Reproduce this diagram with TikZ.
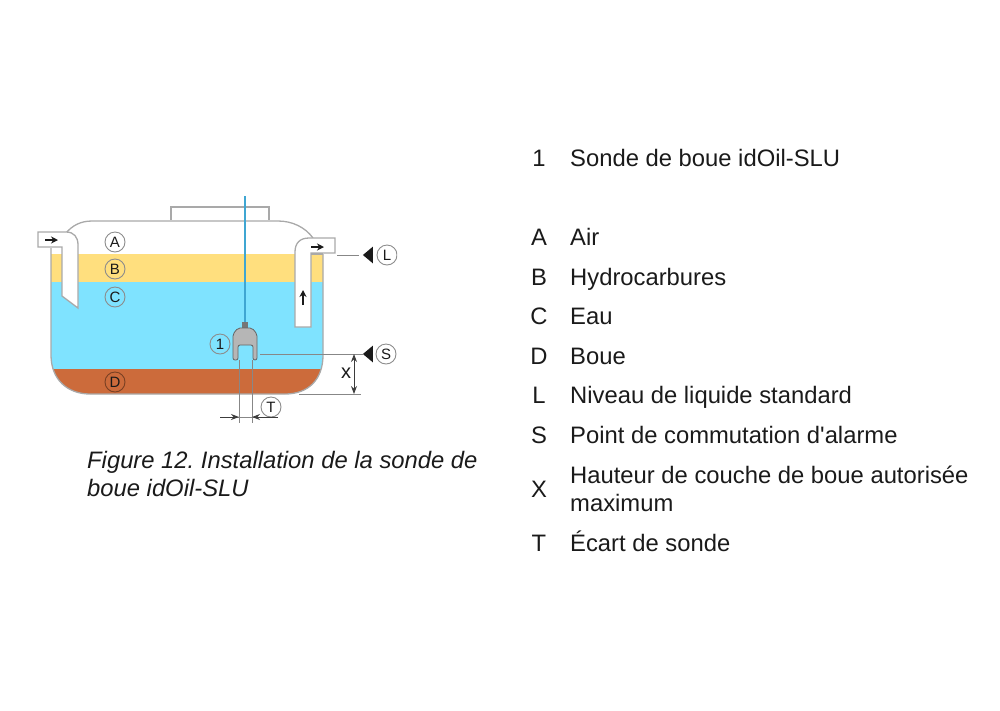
\documentclass[tikz,border=0pt]{standalone}
\usepackage{fontspec}
\setmainfont{Liberation Sans}
\usetikzlibrary{arrows.meta,shapes.geometric}
\definecolor{fuel}{HTML}{FFDF7E}
\definecolor{water}{HTML}{7FE3FF}
\definecolor{sludge}{HTML}{CC6B3B}
\definecolor{wall}{HTML}{A9A9A9}
\definecolor{cable}{HTML}{3FA6D2}
\definecolor{ink}{HTML}{1A1A1A}
\tikzset{
  wallline/.style={draw=wall,line width=1.3pt},
  callout/.style={circle,draw=ink!50,line width=0.9pt,minimum size=20pt,inner sep=0pt,text=ink,font=\fontsize{15}{15}\selectfont},
  dimline/.style={draw=wall!80!black,line width=0.9pt},
  flow/.style={-{Stealth[length=7pt,width=7pt]},ink,line width=1.8pt},
  dimtip/.style={-{Stealth[length=8pt,width=6pt]},ink!85,line width=1pt},
  pointer/.style={isosceles triangle,isosceles triangle apex angle=80,fill=ink,inner sep=0pt,minimum height=10pt,minimum width=13pt,shape border rotate=180},
  keyletter/.style={anchor=base,text=ink,font=\fontsize{23.8}{28}\selectfont},
  keytext/.style={anchor=base west,inner sep=0pt,text=ink,font=\fontsize{23.8}{28}\selectfont,align=left},
  caption/.style={anchor=base west,inner sep=0pt,text=ink,font=\fontsize{23.8}{28}\selectfont\itshape\frenchspacing,align=left}
}
\begin{document}
\begin{tikzpicture}[x=1pt,y=-1pt]
      \useasboundingbox (0,0) rectangle (1000,710);
      % liquid layers
      \begin{scope}
        \clip (51,254) -- (51,355) .. controls (51,380) and (68,394) .. (90,394)
          -- (285,394) .. controls (308,394) and (323,380) .. (323,355) -- (323,254) -- cycle;
        \fill[fuel] (40,254) rectangle (335,282);
        \fill[water] (40,282) rectangle (335,369);
        \fill[sludge] (40,369) rectangle (335,400);
      \end{scope}
      % tank
      \draw[wallline,fill=white] (171,220) -- (171,207) -- (269,207) -- (269,220);
      \draw[wallline] (66,233) .. controls (72,226) and (80,221) .. (92,221) -- (278,221)
        .. controls (292,221) and (305,227) .. (313,238);
      \draw[wallline] (51,248) -- (51,355) .. controls (51,380) and (68,394) .. (90,394)
        -- (285,394) .. controls (308,394) and (323,380) .. (323,355) -- (323,254);
      % pipes
      \draw[wallline,fill=white] (38,232) -- (66,232) .. controls (74,232) and (78,237) .. (78,245)
        -- (78,308) -- (62,296) -- (62,247) -- (38,247) -- cycle;
      \draw[wallline,fill=white] (295,327) -- (295,252) .. controls (295,243) and (300,238) .. (309,238)
        -- (335,238) -- (335,253) -- (311,253) -- (311,327) -- cycle;
      \draw[wallline] (311,254) -- (323,254);
      \draw[flow] (45,240) -- (58,240);
      \draw[flow] (311,247) -- (324,247);
      \draw[flow] (303,305) -- (303,290);
      % probe
      \draw[cable,line width=2pt] (245,196) -- (245,322);
      \fill[wall!70!black] (242,322) rectangle (248,329);
      \draw[wall!60!black,fill=wall!85!white,line width=0.8pt,rounded corners=2pt]
        (233,360) -- (233,334) -- (238,328) -- (252,328) -- (257,334) -- (257,360)
        -- (253,360) -- (253,345) -- (238,345) -- (238,360) -- cycle;
      \draw
        (115,242) node[callout] (A){A}
        (115,269) node[callout] (B){B}
        (115,297) node[callout] (C){C}
        (115,382) node[callout,draw=sludge!60!black] (D){D}
        (220,344) node[callout] (1){1}
        (271,407) node[callout] (T){T};
      % clipped callouts on the right
      \begin{scope}
        \clip (330,230) rectangle (397,370);
        \draw
          (387,255) node[callout] (L){L}
          (386,354) node[callout] (S){S};
      \end{scope}
      \draw
        (369,255) node[pointer] (Lmark){}
        (369,354) node[pointer] (Smark){};
      % dimensions
      \coordinate (Lstart) at (337,255);
      \coordinate (Sstart) at (260,354);
      \coordinate (Xtop) at (354,354);
      \coordinate (Xmid) at (354,374);
      \coordinate (Xbot) at (354,394);
      \coordinate (baseL) at (299,394);
      \coordinate (baseR) at (361,394);
      \coordinate (leftA) at (239,360);
      \coordinate (leftB) at (239,423);
      \coordinate (rightA) at (252,360);
      \coordinate (rightB) at (252,423);
      \coordinate (Tleft) at (220,417);
      \coordinate (Tin) at (239,417);
      \coordinate (Tout) at (252,417);
      \coordinate (Tright) at (278,417);
      \begin{scope}[dimline]
        \draw[shorten >=4pt] (Lstart) to (Lmark);
        \draw (Sstart) to (Smark);
        \draw (baseL) to (baseR);
        \draw (leftA) to (leftB);
        \draw (rightA) to (rightB);
        \draw (Tleft) to (Tright);
      \end{scope}
      \draw[dimtip] (Xmid) to (Xtop);
      \draw[dimtip] (Xmid) to (Xbot);
      \draw[dimtip] (Tleft) to (Tin);
      \draw[dimtip] (Tright) to (Tout);
      \node[text=ink,font=\fontsize{20}{20}\selectfont] (X) at (346,373) {x};
      % caption
      \draw (87,496) node[caption] (fig){Figure 12. Installation de la sonde de\\boue idOil-SLU};
      % key
      \draw
        (539,166) node[keyletter] (k1){1}
        (539,245) node[keyletter] (kA){A}
        (539,285) node[keyletter] (kB){B}
        (539,324) node[keyletter] (kC){C}
        (539,364) node[keyletter] (kD){D}
        (539,403) node[keyletter] (kL){L}
        (539,443) node[keyletter] (kS){S}
        (539,497) node[keyletter] (kX){X}
        (539,551) node[keyletter] (kT){T};
      \draw
        (570,166) node[keytext] (t1){Sonde de boue idOil-SLU}
        (570,245) node[keytext] (tA){Air}
        (570,285) node[keytext] (tB){Hydrocarbures}
        (570,324) node[keytext] (tC){Eau}
        (570,364) node[keytext] (tD){Boue}
        (570,403) node[keytext] (tL){Niveau de liquide standard}
        (570,443) node[keytext] (tS){Point de commutation d\textquotesingle alarme}
        (570,511) node[keytext] (tX){Hauteur de couche de boue autorisée\\maximum}
        (570,551) node[keytext] (tT){Écart de sonde};
    \end{tikzpicture}
\end{document}
